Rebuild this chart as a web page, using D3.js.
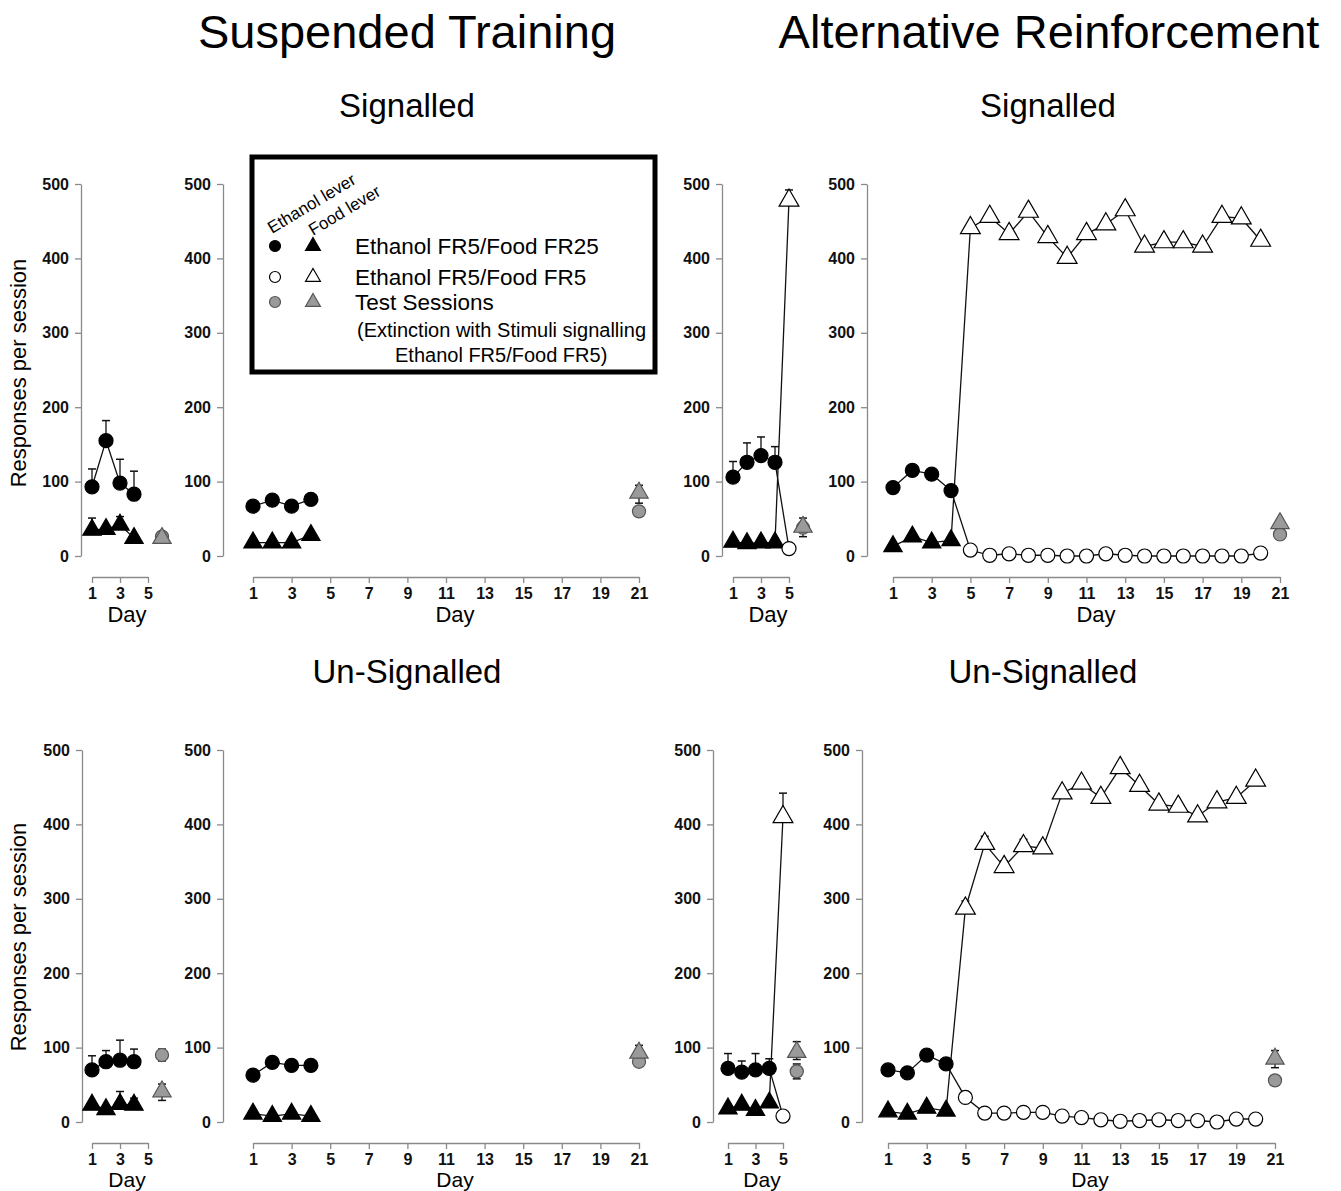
<!DOCTYPE html>
<html>
<head>
<meta charset="utf-8">
<script src="https://cdn.jsdelivr.net/npm/d3@7"></script>
<style>
  body { margin: 0; background: #fff; }
  svg { font-family: "Liberation Sans", Arial, sans-serif; }
  .axis path, .axis line { stroke: #8a8a8a; stroke-width: 1.3; }
  .axis text { font-size: 16px; font-weight: bold; fill: #111; }
</style>
</head>
<body>
<svg width="1341" height="1191"></svg>
<script>
const yTicks = [0, 100, 200, 300, 400, 500];
const shortTicks = [1, 3, 5];
const longTicks = [1, 3, 5, 7, 9, 11, 13, 15, 17, 19, 21];

const baseDays = [1, 2, 3, 4];
const shiftDay = [5];
const altDays = [5, 6, 7, 8, 9, 10, 11, 12, 13, 14, 15, 16, 17, 18, 19, 20];

// Suspended Training, Signalled (short view)
const susSigEthA = [93, 155, 98, 83];
const susSigEthErrA = [24, 27, 32, 31];
const susSigFoodA = [35, 36, 42, 24];
const susSigFoodErrA = [16, 0, 11, 0];
const susSigTestA = [26, 24];

// Suspended Training, Signalled (full view)
const susSigEthB = [67, 75, 67, 76];
const susSigEthErrB = [5, 5, 3, 5];
const susSigFoodB = [18, 18, 18, 28];
const susSigTestB = [60, 85];

// Alternative Reinforcement, Signalled (short view)
const altSigEthC = [106, 126, 135, 126];
const altSigEthErrC = [21, 26, 25, 21];
const altSigEthOpenC = [10];
const altSigFoodC = [19, 17, 18, 18];
const altSigFoodOpenC = [478];
const altSigFoodOpenErrC = [14];
const altSigTestC = [38, 39];

// Alternative Reinforcement, Signalled (full view)
const altSigEthD = [92, 115, 110, 88];
const altSigEthOpenD = [8, 1, 3, 1, 1, 0, 0, 3, 1, 0, 0, 0, 0, 0, 0, 4];
const altSigFoodD = [13, 26, 18, 21];
const altSigFoodOpenD = [441, 456, 433, 463, 429, 401, 433, 446, 465, 416, 422, 422, 416, 456, 454, 424];
const altSigTestD = [29, 44];

// Suspended Training, Un-Signalled (short view)
const susUnEthE = [70, 81, 83, 81];
const susUnEthErrE = [19, 15, 27, 17];
const susUnFoodE = [23, 17, 24, 23];
const susUnFoodErrE = [0, 0, 17, 9];
const susUnTestE = [90, 41];

// Suspended Training, Un-Signalled (full view)
const susUnEthF = [63, 80, 76, 76];
const susUnEthErrF = [0, 4, 5, 7];
const susUnFoodF = [11, 8, 11, 8];
const susUnTestF = [81, 93];

// Alternative Reinforcement, Un-Signalled (short view)
const altUnEthG = [72, 67, 70, 72];
const altUnEthErrG = [20, 15, 22, 13];
const altUnEthOpenG = [8];
const altUnFoodG = [18, 23, 16, 26];
const altUnFoodOpenG = [410];
const altUnFoodOpenErrG = [32];
const altUnTestG = [68, 94];

// Alternative Reinforcement, Un-Signalled (full view)
const altUnEthH = [70, 66, 90, 78];
const altUnEthOpenH = [33, 12, 12, 13, 13, 8, 6, 3, 1, 2, 3, 2, 2, 0, 4, 4];
const altUnFoodH = [14, 11, 19, 15];
const altUnFoodOpenH = [287, 374, 343, 371, 368, 442, 455, 436, 476, 452, 427, 424, 411, 430, 436, 459];
const altUnFoodOpenErrH = [10, 10, 8, 9, 8, 3, 3, 3, 3, 3, 3, 3, 3, 3, 3, 3];
const altUnTestH = [56, 85];

const svg = d3.select("svg");

const topY = d3.scaleLinear().domain([0, 500]).range([556, 184]);
const botY = d3.scaleLinear().domain([0, 500]).range([1122, 750]);

const circleSize = 155;
const triSize = 145;

const panels = [
  { y: topY, ax: 81, xr: [92, 148], dom: [1, 5], ticks: shortTicks, xAxisY: 577, dayX: 127,
    eth: susSigEthA, ethErr: susSigEthErrA, food: susSigFoodA, foodErr: susSigFoodErrA,
    openDays: [], testDay: 6, test: susSigTestA, testErr: [[3, 3], [3, 3]] },
  { y: topY, ax: 223, xr: [253, 639], dom: [1, 21], ticks: longTicks, xAxisY: 577, dayX: 455,
    eth: susSigEthB, ethErr: susSigEthErrB, food: susSigFoodB,
    openDays: [], testDay: 21, test: susSigTestB, testErr: [[5, 5], [10, 14]] },
  { y: topY, ax: 722, xr: [733, 789], dom: [1, 5], ticks: shortTicks, xAxisY: 577, dayX: 768,
    eth: altSigEthC, ethErr: altSigEthErrC, food: altSigFoodC,
    openDays: shiftDay, ethOpen: altSigEthOpenC, foodOpen: altSigFoodOpenC, foodOpenErr: altSigFoodOpenErrC,
    testDay: 6, test: altSigTestC, testErr: [[5, 5], [12, 13]] },
  { y: topY, ax: 867, xr: [893, 1280], dom: [1, 21], ticks: longTicks, xAxisY: 577, dayX: 1096,
    eth: altSigEthD, food: altSigFoodD,
    openDays: altDays, ethOpen: altSigEthOpenD, foodOpen: altSigFoodOpenD,
    testDay: 21, test: altSigTestD, testErr: [[3, 3], [6, 8]] },
  { y: botY, ax: 82, xr: [92, 148], dom: [1, 5], ticks: shortTicks, xAxisY: 1143, dayX: 127,
    eth: susUnEthE, ethErr: susUnEthErrE, food: susUnFoodE, foodErr: susUnFoodErrE,
    openDays: [], testDay: 6, test: susUnTestE, testErr: [[8, 8], [10, 12]] },
  { y: botY, ax: 223, xr: [253, 639], dom: [1, 21], ticks: longTicks, xAxisY: 1143, dayX: 455,
    eth: susUnEthF, ethErr: susUnEthErrF, food: susUnFoodF,
    openDays: [], testDay: 21, test: susUnTestF, testErr: [[5, 5], [10, 8]] },
  { y: botY, ax: 713, xr: [728, 783], dom: [1, 5], ticks: shortTicks, xAxisY: 1143, dayX: 762,
    eth: altUnEthG, ethErr: altUnEthErrG, food: altUnFoodG,
    openDays: shiftDay, ethOpen: altUnEthOpenG, foodOpen: altUnFoodOpenG, foodOpenErr: altUnFoodOpenErrG,
    testDay: 6, test: altUnTestG, testErr: [[10, 10], [14, 10]] },
  { y: botY, ax: 862, xr: [888, 1275], dom: [1, 21], ticks: longTicks, xAxisY: 1143, dayX: 1090,
    eth: altUnEthH, food: altUnFoodH,
    openDays: altDays, ethOpen: altUnEthOpenH, foodOpen: altUnFoodOpenH, foodOpenErr: altUnFoodOpenErrH,
    testDay: 21, test: altUnTestH, testErr: [[4, 4], [11, 12]] }
];

function errBar(g, x, y, cx, v, up, down) {
  const cap = 4;
  if (up > 0) {
    g.append("line").attr("x1", x(cx)).attr("x2", x(cx)).attr("y1", y(v)).attr("y2", y(v + up))
      .attr("stroke", "#111").attr("stroke-width", 1.3);
    g.append("line").attr("x1", x(cx) - cap).attr("x2", x(cx) + cap).attr("y1", y(v + up)).attr("y2", y(v + up))
      .attr("stroke", "#111").attr("stroke-width", 1.5);
  }
  if (down > 0) {
    g.append("line").attr("x1", x(cx)).attr("x2", x(cx)).attr("y1", y(v)).attr("y2", y(v - down))
      .attr("stroke", "#111").attr("stroke-width", 1.3);
    g.append("line").attr("x1", x(cx) - cap).attr("x2", x(cx) + cap).attr("y1", y(v - down)).attr("y2", y(v - down))
      .attr("stroke", "#111").attr("stroke-width", 1.5);
  }
}

function marker(g, type, px, py, fill, size) {
  g.append("path")
    .attr("transform", `translate(${px}, ${py})`)
    .attr("d", d3.symbol().type(type === "c" ? d3.symbolCircle : d3.symbolTriangle).size(size)())
    .attr("fill", fill)
    .attr("stroke", fill === "#9a9a9a" ? "#555" : "#000")
    .attr("stroke-width", 1.2);
}

panels.forEach(p => {
  const x = d3.scaleLinear().domain(p.dom).range(p.xr);
  const y = p.y;
  const g = svg.append("g");

  g.append("g")
    .attr("class", "axis")
    .attr("transform", `translate(${p.ax}, 0)`)
    .call(d3.axisLeft(y).tickValues(yTicks).tickSize(6).tickSizeOuter(0).tickPadding(6));

  g.append("g")
    .attr("class", "axis")
    .attr("transform", `translate(0, ${p.xAxisY})`)
    .call(d3.axisBottom(x).tickValues(p.ticks).tickFormat(d3.format("d")).tickSize(6).tickSizeOuter(0).tickPadding(5));

  const bottomRow = p.xAxisY > 1000;
  g.append("text")
    .attr("x", p.dayX)
    .attr("y", bottomRow ? p.xAxisY + 44 : p.xAxisY + 45)
    .attr("text-anchor", "middle")
    .attr("font-size", bottomRow ? 21 : 22)
    .text("Day");

  const line = d3.line().x(d => x(d[0])).y(d => y(d[1]));
  const ethPts = baseDays.map((d, i) => [d, p.eth[i]]).concat(p.openDays.map((d, i) => [d, p.ethOpen[i]]));
  const foodPts = baseDays.map((d, i) => [d, p.food[i]]).concat(p.openDays.map((d, i) => [d, p.foodOpen[i]]));
  [ethPts, foodPts].forEach(pts => {
    g.append("path").attr("d", line(pts)).attr("fill", "none").attr("stroke", "#111").attr("stroke-width", 1.3);
  });

  // error bars
  baseDays.forEach((d, i) => {
    if (p.ethErr) errBar(g, x, y, d, p.eth[i], p.ethErr[i], 0);
    if (p.foodErr) errBar(g, x, y, d, p.food[i], p.foodErr[i], 0);
  });
  p.openDays.forEach((d, i) => {
    if (p.foodOpenErr) errBar(g, x, y, d, p.foodOpen[i], p.foodOpenErr[i], 0);
  });
  errBar(g, x, y, p.testDay, p.test[0], p.testErr[0][0], p.testErr[0][1]);
  errBar(g, x, y, p.testDay, p.test[1], p.testErr[1][0], p.testErr[1][1]);

  // markers
  baseDays.forEach((d, i) => {
    marker(g, "c", x(d), y(p.eth[i]), "#000", circleSize);
    marker(g, "t", x(d), y(p.food[i]), "#000", triSize);
  });
  p.openDays.forEach((d, i) => {
    marker(g, "c", x(d), y(p.ethOpen[i]), "#fff", circleSize);
    marker(g, "t", x(d), y(p.foodOpen[i]), "#fff", triSize + 25);
  });
  marker(g, "c", x(p.testDay), y(p.test[0]), "#9a9a9a", circleSize - 20);
  marker(g, "t", x(p.testDay), y(p.test[1]), "#9a9a9a", triSize);
});

// y axis titles
[373, 937].forEach(cy => {
  svg.append("text")
    .attr("transform", `translate(26, ${cy}) rotate(-90)`)
    .attr("text-anchor", "middle")
    .attr("font-size", 22)
    .text("Responses per session");
});

// headings
svg.append("text").attr("x", 407).attr("y", 48).attr("text-anchor", "middle").attr("font-size", 47).text("Suspended Training");
svg.append("text").attr("x", 1049).attr("y", 48).attr("text-anchor", "middle").attr("font-size", 47).text("Alternative Reinforcement");
svg.append("text").attr("x", 407).attr("y", 117).attr("text-anchor", "middle").attr("font-size", 33).text("Signalled");
svg.append("text").attr("x", 1048).attr("y", 117).attr("text-anchor", "middle").attr("font-size", 33).text("Signalled");
svg.append("text").attr("x", 407).attr("y", 683).attr("text-anchor", "middle").attr("font-size", 33).text("Un-Signalled");
svg.append("text").attr("x", 1043).attr("y", 683).attr("text-anchor", "middle").attr("font-size", 33).text("Un-Signalled");

// legend
const leg = svg.append("g");
leg.append("rect").attr("x", 252).attr("y", 157).attr("width", 403).attr("height", 215)
  .attr("fill", "#fff").attr("stroke", "#000").attr("stroke-width", 5);
leg.append("text").attr("transform", "translate(272, 234) rotate(-31)").attr("font-size", 17).text("Ethanol lever");
leg.append("text").attr("transform", "translate(313, 236) rotate(-31)").attr("font-size", 17).text("Food lever");
const legRows = [
  { y: 246, fill: "#000", label: "Ethanol FR5/Food FR25" },
  { y: 277, fill: "#fff", label: "Ethanol FR5/Food FR5" },
  { y: 302, fill: "#9a9a9a", label: "Test Sessions" }
];
legRows.forEach(r => {
  marker(leg, "c", 275, r.y, r.fill, 95);
  marker(leg, "t", 313, r.y, r.fill, 95);
  leg.append("text").attr("x", 355).attr("y", r.y + 8).attr("font-size", 22.5).text(r.label);
});
leg.append("text").attr("x", 357).attr("y", 337).attr("font-size", 20).text("(Extinction with Stimuli signalling");
leg.append("text").attr("x", 395).attr("y", 362).attr("font-size", 20).text("Ethanol FR5/Food FR5)");
</script>
</body>
</html>
